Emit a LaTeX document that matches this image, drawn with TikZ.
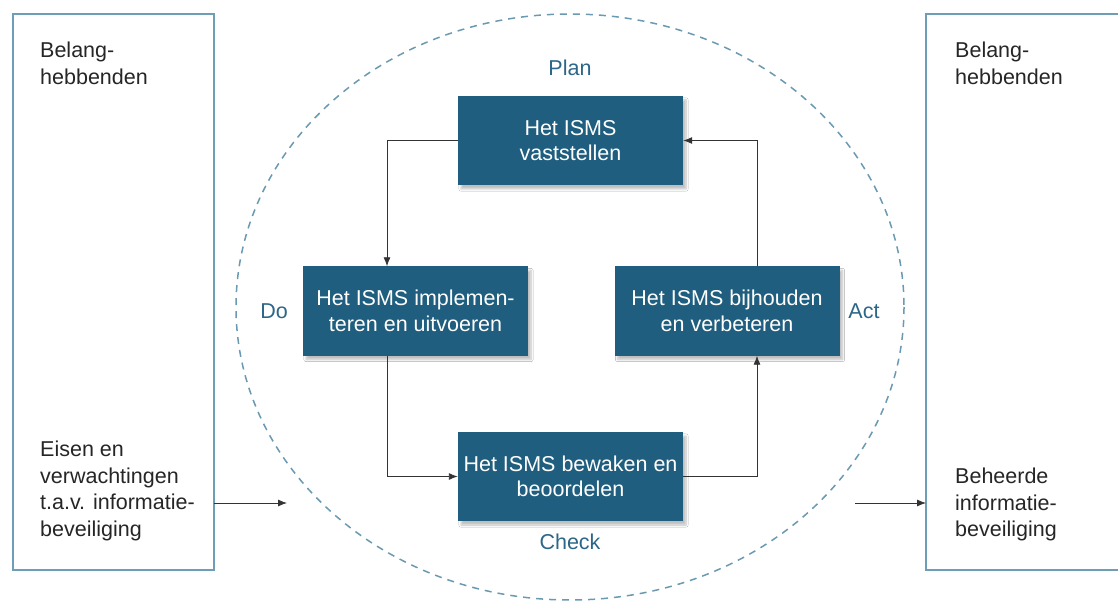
\documentclass[tikz,border=0pt]{standalone}
\usepackage{fontspec}
\setmainfont{Liberation Sans}
\usetikzlibrary{arrows.meta,shadows.blur}
\definecolor{boxblue}{HTML}{1F5E7E}
\definecolor{frameblue}{HTML}{6E9DB6}
\definecolor{labelblue}{HTML}{2C6688}
\definecolor{dashblue}{HTML}{6A9AB2}
\definecolor{linegray}{HTML}{333333}
\tikzset{
  stepbox/.style={fill=boxblue, text=white, minimum width=225pt, minimum height=89pt,
    align=center, inner sep=0pt, font=\fontsize{21.5}{25.5}\selectfont,
    blur shadow={shadow xshift=3pt, shadow yshift=-4pt, shadow blur steps=6, shadow opacity=25}},
  phase/.style={text=labelblue, font=\fontsize{21.5}{25.5}\selectfont, inner sep=0pt},
  sidetext/.style={text=black!85, font=\fontsize{21.5}{26.5}\selectfont, align=left, inner sep=0pt, anchor=north west},
  frame/.style={draw=frameblue, line width=1.8pt},
  flow/.style={draw=linegray, line width=0.9pt, -{Latex[length=9pt,width=7pt]}}
}
\begin{document}
\begin{tikzpicture}[x=1pt,y=-1pt]
\clip (0,0) rectangle (1118,601);
\fill[white] (0,0) rectangle (1118,601);
% outer frames
\draw[frame] (13,14) rectangle (214,570);
\draw[frame] (926,14) rectangle (1140,570);
% dashed ellipse
\draw[dashblue, line width=1.5pt, dash pattern=on 7pt off 6pt] (570,307) ellipse [x radius=334, y radius=293];
% boxes
\node[stepbox] (plan) at (570.5,140.5) {Het ISMS\\vaststellen};
\node[stepbox] (do) at (415.5,311) {Het ISMS implemen-\\teren en uitvoeren};
\node[stepbox] (act) at (727,311) {Het ISMS bijhouden\\en verbeteren};
\node[stepbox] (check) at (570.5,476.5) {Het ISMS bewaken en\\beoordelen};
% phase labels
\node[phase] (lplan) at (570,68) {Plan};
\node[phase] (lcheck) at (570,542) {Check};
\node[phase] (ldo) at (274,311) {Do};
\node[phase] (lact) at (864,311) {Act};
% cycle connectors
\coordinate (c1) at (387,140.5);
\coordinate (c3) at (757,140.5);
\draw[flow] (plan.west) -- (c1) -- (c1 |- do.north);
\draw[flow] (do.south -| c1) |- (check.west);
\draw[flow] (check.east) -| (act.south -| c3);
\draw[flow] (act.north -| c3) -- (c3) -- (plan.east);
% side texts
\node[sidetext] (lb) at (40,42) {Belang-\\hebbenden};
\node[sidetext] (le) at (40,441) {Eisen en\\verwachtingen\\t.a.v. informatie-\\beveiliging};
\node[sidetext] (rb) at (955,42) {Belang-\\hebbenden};
\node[sidetext] (re) at (955,468) {Beheerde\\informatie-\\beveiliging};
% input/output arrows
\coordinate (inA) at (214,503);
\coordinate (inB) at (287,503);
\coordinate (outA) at (855,503);
\coordinate (outB) at (926,503);
\draw[flow, line width=0.8pt] (inA) -- (inB);
\draw[flow, line width=0.8pt] (outA) -- (outB);
\end{tikzpicture}
\end{document}
